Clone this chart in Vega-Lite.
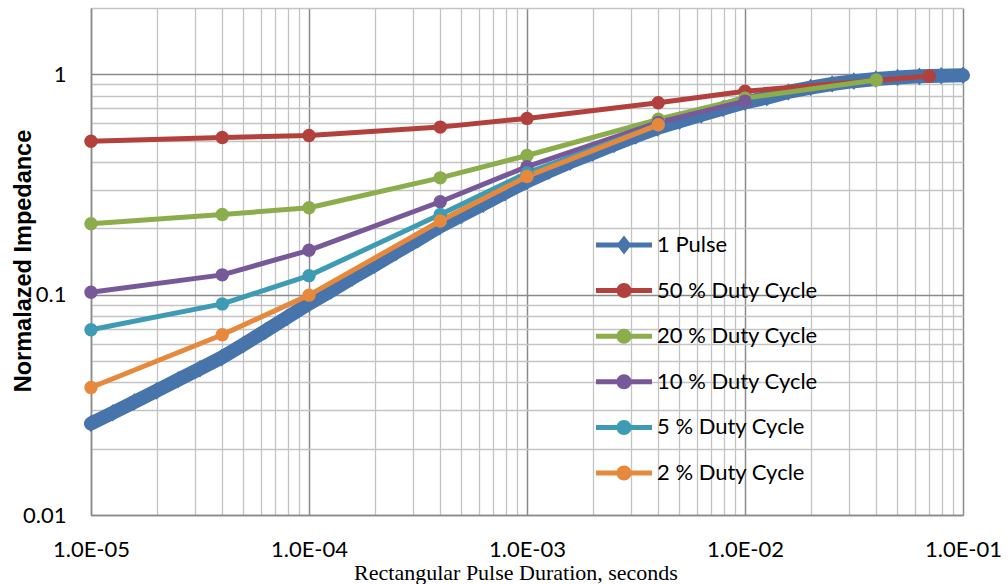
{
  "$schema": "https://vega.github.io/schema/vega-lite/v6.json",
  "autosize": {"type": "none"},
  "padding": {"left": 91, "top": 8, "right": 45, "bottom": 69},
  "width": 872,
  "height": 507,
  "background": "white",
  "config": {"view": {"stroke": null}, "font": "Lato"},
  "datasets": {
    "pulse": [
      {"series": "1 Pulse", "x": 1e-5, "y": 0.0260},
      {"series": "1 Pulse", "x": 1.26e-5, "y": 0.0291},
      {"series": "1 Pulse", "x": 1.58e-5, "y": 0.0326},
      {"series": "1 Pulse", "x": 2.0e-5, "y": 0.0366},
      {"series": "1 Pulse", "x": 2.51e-5, "y": 0.0411},
      {"series": "1 Pulse", "x": 3.16e-5, "y": 0.0461},
      {"series": "1 Pulse", "x": 3.98e-5, "y": 0.0518},
      {"series": "1 Pulse", "x": 5.01e-5, "y": 0.0594},
      {"series": "1 Pulse", "x": 6.31e-5, "y": 0.0684},
      {"series": "1 Pulse", "x": 7.94e-5, "y": 0.0789},
      {"series": "1 Pulse", "x": 1e-4, "y": 0.0910},
      {"series": "1 Pulse", "x": 1.26e-4, "y": 0.1040},
      {"series": "1 Pulse", "x": 1.58e-4, "y": 0.1191},
      {"series": "1 Pulse", "x": 2.0e-4, "y": 0.1361},
      {"series": "1 Pulse", "x": 2.51e-4, "y": 0.1556},
      {"series": "1 Pulse", "x": 3.16e-4, "y": 0.1778},
      {"series": "1 Pulse", "x": 3.98e-4, "y": 0.2037},
      {"series": "1 Pulse", "x": 5.01e-4, "y": 0.2291},
      {"series": "1 Pulse", "x": 6.31e-4, "y": 0.2576},
      {"series": "1 Pulse", "x": 7.94e-4, "y": 0.2904},
      {"series": "1 Pulse", "x": 1e-3, "y": 0.3268},
      {"series": "1 Pulse", "x": 1.26e-3, "y": 0.3631},
      {"series": "1 Pulse", "x": 1.58e-3, "y": 0.3999},
      {"series": "1 Pulse", "x": 2.0e-3, "y": 0.4385},
      {"series": "1 Pulse", "x": 2.51e-3, "y": 0.4808},
      {"series": "1 Pulse", "x": 3.16e-3, "y": 0.5248},
      {"series": "1 Pulse", "x": 3.98e-3, "y": 0.5715},
      {"series": "1 Pulse", "x": 5.01e-3, "y": 0.6124},
      {"series": "1 Pulse", "x": 6.31e-3, "y": 0.6546},
      {"series": "1 Pulse", "x": 7.94e-3, "y": 0.6998},
      {"series": "1 Pulse", "x": 1e-2, "y": 0.7464},
      {"series": "1 Pulse", "x": 1.26e-2, "y": 0.7834},
      {"series": "1 Pulse", "x": 1.58e-2, "y": 0.8320},
      {"series": "1 Pulse", "x": 2.0e-2, "y": 0.8710},
      {"series": "1 Pulse", "x": 2.51e-2, "y": 0.9040},
      {"series": "1 Pulse", "x": 3.16e-2, "y": 0.9310},
      {"series": "1 Pulse", "x": 3.98e-2, "y": 0.9530},
      {"series": "1 Pulse", "x": 5.01e-2, "y": 0.9680},
      {"series": "1 Pulse", "x": 6.31e-2, "y": 0.9790},
      {"series": "1 Pulse", "x": 7.94e-2, "y": 0.9860},
      {"series": "1 Pulse", "x": 1e-1, "y": 0.9910}
    ],
    "duty": [
      {"series": "50 % Duty Cycle", "x": 1e-5, "y": 0.497},
      {"series": "50 % Duty Cycle", "x": 4e-5, "y": 0.517},
      {"series": "50 % Duty Cycle", "x": 1e-4, "y": 0.528},
      {"series": "50 % Duty Cycle", "x": 4e-4, "y": 0.576},
      {"series": "50 % Duty Cycle", "x": 1e-3, "y": 0.631},
      {"series": "50 % Duty Cycle", "x": 4e-3, "y": 0.743},
      {"series": "50 % Duty Cycle", "x": 1e-2, "y": 0.838},
      {"series": "50 % Duty Cycle", "x": 7e-2, "y": 0.983},
      {"series": "20 % Duty Cycle", "x": 1e-5, "y": 0.210},
      {"series": "20 % Duty Cycle", "x": 4e-5, "y": 0.231},
      {"series": "20 % Duty Cycle", "x": 1e-4, "y": 0.248},
      {"series": "20 % Duty Cycle", "x": 4e-4, "y": 0.339},
      {"series": "20 % Duty Cycle", "x": 1e-3, "y": 0.428},
      {"series": "20 % Duty Cycle", "x": 4e-3, "y": 0.625},
      {"series": "20 % Duty Cycle", "x": 1e-2, "y": 0.780},
      {"series": "20 % Duty Cycle", "x": 4e-2, "y": 0.942},
      {"series": "10 % Duty Cycle", "x": 1e-5, "y": 0.1025},
      {"series": "10 % Duty Cycle", "x": 4e-5, "y": 0.123},
      {"series": "10 % Duty Cycle", "x": 1e-4, "y": 0.159},
      {"series": "10 % Duty Cycle", "x": 4e-4, "y": 0.264},
      {"series": "10 % Duty Cycle", "x": 1e-3, "y": 0.381},
      {"series": "10 % Duty Cycle", "x": 4e-3, "y": 0.605},
      {"series": "10 % Duty Cycle", "x": 1e-2, "y": 0.756},
      {"series": "5 % Duty Cycle", "x": 1e-5, "y": 0.0693},
      {"series": "5 % Duty Cycle", "x": 4e-5, "y": 0.0908},
      {"series": "5 % Duty Cycle", "x": 1e-4, "y": 0.122},
      {"series": "5 % Duty Cycle", "x": 4e-4, "y": 0.231},
      {"series": "5 % Duty Cycle", "x": 1e-3, "y": 0.357},
      {"series": "5 % Duty Cycle", "x": 4e-3, "y": 0.590},
      {"series": "2 % Duty Cycle", "x": 1e-5, "y": 0.0379},
      {"series": "2 % Duty Cycle", "x": 4e-5, "y": 0.0658},
      {"series": "2 % Duty Cycle", "x": 1e-4, "y": 0.0995},
      {"series": "2 % Duty Cycle", "x": 4e-4, "y": 0.216},
      {"series": "2 % Duty Cycle", "x": 1e-3, "y": 0.344},
      {"series": "2 % Duty Cycle", "x": 4e-3, "y": 0.590}
    ]
  },
  "encoding": {
    "x": {
      "field": "x",
      "type": "quantitative",
      "scale": {"type": "log", "domain": [1e-5, 0.1], "nice": false},
      "axis": {
        "values": [1e-5, 2e-5, 3e-5, 4e-5, 5e-5, 6e-5, 7e-5, 8e-5, 9e-5, 1e-4, 2e-4, 3e-4, 4e-4, 5e-4, 6e-4, 7e-4, 8e-4, 9e-4, 1e-3, 2e-3, 3e-3, 4e-3, 5e-3, 6e-3, 7e-3, 8e-3, 9e-3, 1e-2, 2e-2, 3e-2, 4e-2, 5e-2, 6e-2, 7e-2, 8e-2, 9e-2, 1e-1],
        "labelExpr": "abs(log(datum.value)/LN10 - round(log(datum.value)/LN10)) < 0.001 ? '1.0E-0' + (-round(log(datum.value)/LN10)) : ''",
        "labelFont": "Lato",
        "labelFontSize": 22,
        "labelColor": "black",
        "labelPadding": 24,
        "labelFlush": false,
        "labelOverlap": false,
        "ticks": false,
        "grid": true,
        "gridColor": {"condition": {"test": "abs(log(datum.value)/LN10 - round(log(datum.value)/LN10)) < 0.001", "value": "#8a8a8a"}, "value": "#c4c4c4"},
        "gridWidth": {"condition": {"test": "abs(log(datum.value)/LN10 - round(log(datum.value)/LN10)) < 0.001", "value": 1.5}, "value": 1.3},
        "domainColor": "#8a8a8a",
        "domainWidth": 1.5,
        "title": "Rectangular Pulse Duration, seconds",
        "titleFont": "Liberation Serif",
        "titleFontSize": 22,
        "titleFontWeight": "normal",
        "titleColor": "black",
        "titleX": 424.5,
        "titleY": 64,
        "titleAlign": "center",
        "titleBaseline": "alphabetic"
      }
    },
    "y": {
      "field": "y",
      "type": "quantitative",
      "scale": {"type": "log", "domain": [0.01, 2], "nice": false},
      "axis": {
        "values": [0.01, 0.02, 0.03, 0.04, 0.05, 0.06, 0.07, 0.08, 0.09, 0.1, 0.2, 0.3, 0.4, 0.5, 0.6, 0.7, 0.8, 0.9, 1, 2],
        "labelExpr": "abs(log(datum.value)/LN10 - round(log(datum.value)/LN10)) < 0.001 ? format(datum.value, '~g') : ''",
        "labelFont": "Lato",
        "labelFontSize": 22,
        "labelColor": "black",
        "labelPadding": 25,
        "labelFlush": false,
        "labelOverlap": false,
        "ticks": false,
        "grid": true,
        "gridColor": {"condition": {"test": "abs(log(datum.value)/LN10 - round(log(datum.value)/LN10)) < 0.001", "value": "#8a8a8a"}, "value": "#c4c4c4"},
        "gridWidth": {"condition": {"test": "abs(log(datum.value)/LN10 - round(log(datum.value)/LN10)) < 0.001", "value": 1.5}, "value": 1.3},
        "domainColor": "#8a8a8a",
        "domainWidth": 1.5,
        "title": "Normalazed Impedance",
        "titleFont": "Liberation Sans",
        "titleFontSize": 23.5,
        "titleFontWeight": "bold",
        "titleColor": "black",
        "titleX": -68,
        "titleY": 252.5,
        "titleAngle": 270,
        "titleAlign": "center",
        "titleBaseline": "middle"
      }
    },
    "color": {
      "field": "series",
      "type": "nominal",
      "scale": {
        "domain": ["1 Pulse", "50 % Duty Cycle", "20 % Duty Cycle", "10 % Duty Cycle", "5 % Duty Cycle", "2 % Duty Cycle"],
        "range": ["#4674ab", "#b2413d", "#8cad4c", "#77599a", "#3e9bb4", "#e6893c"]
      },
      "legend": {
        "title": null,
        "orient": "none",
        "legendX": 522,
        "legendY": 226,
        "padding": 0,
        "labelFont": "Lato",
        "labelFontSize": 22,
        "labelColor": "black",
        "labelOffset": 22,
        "labelLimit": 0,
        "rowPadding": 23.6,
        "symbolSize": 400,
        "symbolStrokeWidth": 0,
        "encode": {
          "symbols": {
            "update": {
              "shape": [
                {"test": "datum.value === '1 Pulse'", "value": "M-2.8,-0.25H2.8V0.25H-2.8Z M0,-0.95L0.75,0L0,0.95L-0.75,0Z"},
                {"value": "M-2.8,-0.25H2.8V0.25H-2.8Z M0.75,0A0.75,0.75 0 1,1 -0.75,0A0.75,0.75 0 1,1 0.75,0Z"}
              ],
              "fill": {"scale": "color", "field": "value"},
              "stroke": {"value": "transparent"},
              "strokeWidth": {"value": 0},
              "size": {"value": 400},
              "opacity": {"value": 1}
            }
          }
        }
      }
    }
  },
  "layer": [
    {
      "data": {"name": "pulse"},
      "mark": {"type": "line", "strokeWidth": 14, "strokeJoin": "round", "strokeCap": "round", "clip": false}
    },
    {
      "data": {"name": "pulse"},
      "mark": {"type": "point", "filled": true, "opacity": 1, "shape": "M0,-1.1L0.85,0L0,1.1L-0.85,0Z", "size": 256, "clip": false}
    },
    {
      "data": {"name": "duty"},
      "mark": {"type": "line", "strokeWidth": 5, "strokeJoin": "round", "strokeCap": "round"}
    },
    {
      "data": {"name": "duty"},
      "mark": {"type": "point", "filled": true, "opacity": 1, "size": 180}
    }
  ]
}
